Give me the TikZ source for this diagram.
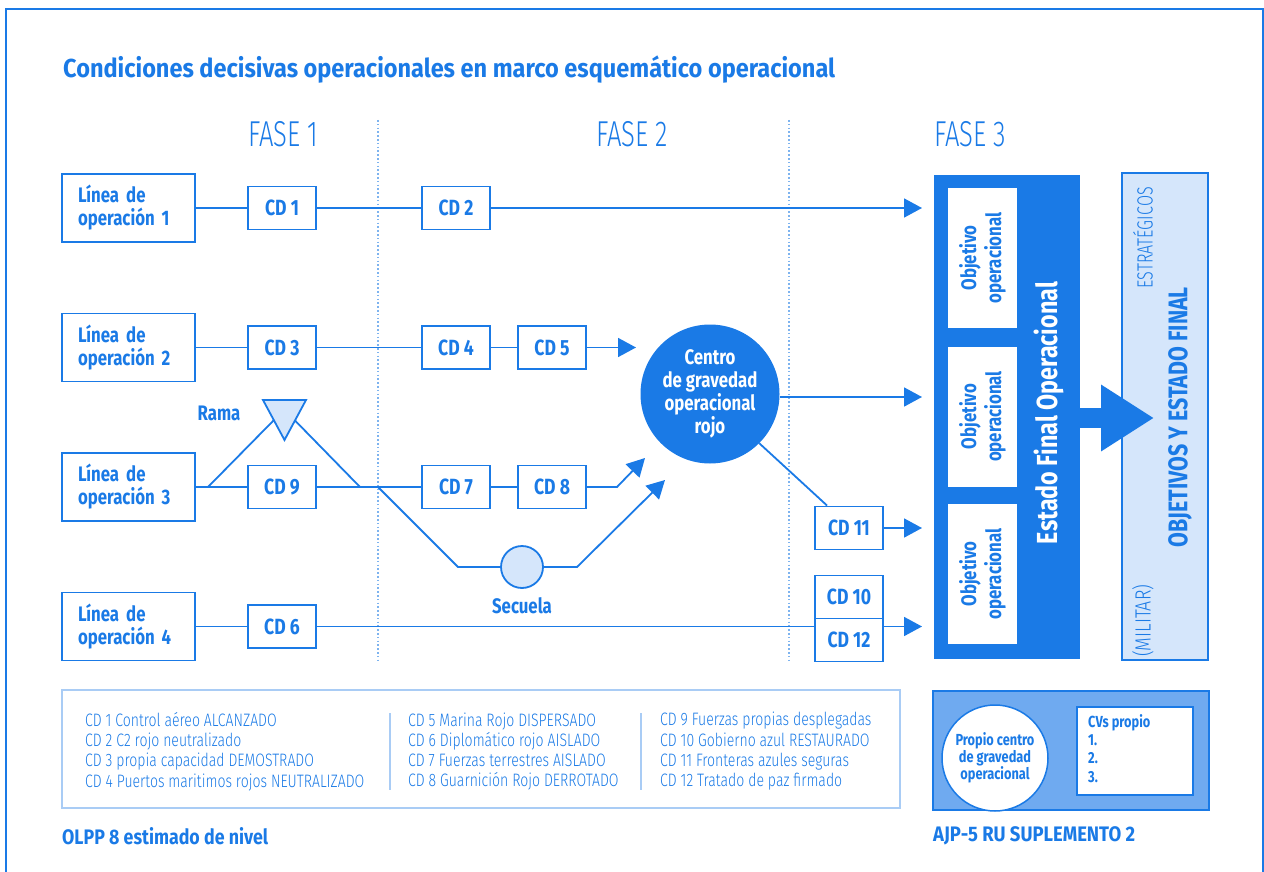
\documentclass[tikz,border=0pt]{standalone}
\usepackage{fontspec}
\usepackage{graphicx}
\setmainfont{Fira Sans}[FakeStretch=0.8]
\newfontfamily\lightf{Fira Sans Light}[FakeStretch=0.78]
\usetikzlibrary{arrows.meta,calc}
\definecolor{mb}{HTML}{1A7AE6}
\definecolor{lb}{HTML}{D5E6FB}
\definecolor{mid}{HTML}{6FAAF0}
\definecolor{dotc}{HTML}{7DB3EF}
\definecolor{lgb}{HTML}{A9CCF5}
\newcommand\fw[2]{\resizebox{#1}{\height}{#2}}
\begin{document}
\begin{tikzpicture}[x=1pt,y=-1pt,
  lbox/.style={draw=mb, line width=1.8pt, minimum height=68pt, inner xsep=16pt, inner ysep=0pt, text width=101pt, align=left, text=mb, font=\bfseries\fontsize{21}{23}\selectfont},
  cdbox/.style={draw=mb, line width=1.8pt, minimum width=68pt, minimum height=43pt, inner sep=0pt, fill=white, text=mb, font=\bfseries\fontsize{22}{24}\selectfont},
  ln/.style={mb, line width=1.8pt},
  arr/.style={ln, -{Triangle[length=18pt,width=19pt]}},
  dotl/.style={dotc, line width=1.6pt, dash pattern=on 1.6pt off 2.2pt},
  phase/.style={text=mb, font=\lightf\fontsize{36}{36}\selectfont},
  lab/.style={text=mb, font=\bfseries\fontsize{21}{22}\selectfont},
  objbox/.style={rotate=90, fill=white, minimum width=140pt, minimum height=69pt, inner sep=0pt, align=center, text=mb, font=\bfseries\fontsize{21}{25}\selectfont},
  legtxt/.style={anchor=west, align=left, text=mb, inner sep=0pt, font=\lightf\fontsize{18}{20.3}\selectfont},
  foot/.style={anchor=west, inner sep=0pt, text=mb, font=\bfseries\fontsize{21}{22}\selectfont}
]
\useasboundingbox (0,0) rectangle (1264,872);
\draw[mb, line width=1.5pt] (6,872) -- (6,9) -- (1263,9) -- (1263,872);

% title
\node[anchor=west, inner sep=0pt, text=mb, font=\bfseries\fontsize{26}{28}\selectfont] (title) at (63,70) {\fw{772pt}{Condiciones decisivas operacionales en marco esquemático operacional}};

% phases
\node[phase] (f1) at (283,134) {\fw{70pt}{FASE 1}};
\node[phase] (f2) at (632,134) {\fw{72pt}{FASE 2}};
\node[phase] (f3) at (970,134) {\fw{72pt}{FASE 3}};
\draw[dotl] (378,120) -- (378,662);
\draw[dotl] (789,120) -- (789,662);

% right side blocks
\node[fill=lb, draw=mb, line width=1.5pt, minimum width=86pt, minimum height=487pt, inner sep=0pt] (seb) at (1165,416.5) {};
\node[fill=mb, minimum width=146pt, minimum height=484pt, inner sep=0pt] (efo) at (1007,417) {};
\node[objbox] (o1) at (982.5,258) {Objetivo\\operacional};
\node[objbox] (o2) at (982.5,416.5) {Objetivo\\operacional};
\node[objbox] (o3) at (982.5,574) {Objetivo\\operacional};
\node[rotate=90, text=white, font=\bfseries\fontsize{29}{30}\selectfont] (efot) at (1049,413) {\fw{262pt}{Estado Final Operacional}};
\draw[mb, line width=20pt, -{Triangle[length=53pt,width=63pt]}] (1079,418) -- (1154,418);
\node[rotate=90, anchor=east, text=mb, inner sep=0pt, font=\lightf\fontsize{22}{24}\selectfont] (estr) at (1143,187) {\fw{101pt}{ESTRATÉGICOS}};
\node[rotate=90, anchor=west, text=mb, inner sep=0pt, font=\lightf\fontsize{22}{24}\selectfont] (mil) at (1143,657) {\fw{72pt}{(MILITAR)}};
\node[rotate=90, text=mb, inner sep=0pt, font=\bfseries\fontsize{27}{28}\selectfont] (oyef) at (1180,417) {\fw{260pt}{OBJETIVOS Y ESTADO FINAL}};

% line boxes
\node[lbox] (L1) at (128.5,208) {Línea de\\operación 1};
\node[lbox] (L2) at (128.5,347.5) {Línea de\\operación 2};
\node[lbox] (L3) at (128.5,487) {Línea de\\operación 3};
\node[lbox] (L4) at (128.5,626.5) {Línea de\\operación 4};

% CD boxes
\node[cdbox] (CD1) at (282,208) {CD 1};
\node[cdbox] (CD2) at (456,208) {CD 2};
\node[cdbox] (CD3) at (282,347.5) {CD 3};
\node[cdbox] (CD4) at (456,347.5) {CD 4};
\node[cdbox] (CD5) at (552,347.5) {CD 5};
\node[cdbox] (CD9) at (282,487) {CD 9};
\node[cdbox] (CD7) at (456,487) {CD 7};
\node[cdbox] (CD8) at (552,487) {CD 8};
\node[cdbox] (CD6) at (282,626.5) {CD 6};
\node[cdbox] (CD11) at (849,528) {CD 11};
\node[cdbox] (CD10) at (849,597) {CD 10};
\node[cdbox] (CD12) at (849,640) {CD 12};

% centre of gravity
\node[circle, fill=mb, minimum size=139pt, inner sep=0pt, align=center, text=white, font=\bfseries\fontsize{21}{23}\selectfont] (cog) at (710,394) {Centro\\de gravedad\\operacional\\rojo};

% coordinates
\coordinate (t1) at (922,208);
\coordinate (t2) at (636,347.5);
\coordinate (tc) at (922,397);
\coordinate (t11) at (922,528);
\coordinate (t4) at (922,626.5);
\coordinate (j3) at (378,487);
\coordinate (r0) at (208,487);
\coordinate (r1) at (360,487);
\coordinate (ra) at (273.5,420.5);
\coordinate (rb) at (295,420.5);
\coordinate (k8) at (617,487);
\coordinate (k8t) at (645,458);
\coordinate (s1) at (458,567);
\coordinate (s2) at (577,567);
\coordinate (s3) at (665,480);

% row 1
\draw[ln] (L1) -- (CD1);
\draw[ln] (CD1) -- (CD2);
\draw[arr] (CD2) -- (t1);
% row 2
\draw[ln] (L2) -- (CD3);
\draw[ln] (CD3) -- (CD4);
\draw[ln] (CD4) -- (CD5);
\draw[arr] (CD5) -- (t2);
% row 3
\draw[ln] (L3) -- (CD9);
\draw[ln] (CD9) -- (j3);
\draw[ln] (j3) -- (CD7);
\draw[ln] (CD7) -- (CD8);
\draw[arr] (CD8) -- (k8) -- (k8t);
% rama
\draw[ln, fill=lb] (263,400) coordinate (ta) -- (306,400) coordinate (tb) -- (284.5,440) coordinate (tcc) -- cycle;
\draw[ln] (r0) -- (ra);
\draw[ln] (rb) -- (r1);
\node[lab] (rama) at (219,413) {Rama};
% secuela
\node[circle, draw=mb, line width=1.8pt, fill=lb, minimum size=42pt, inner sep=0pt] (sec) at (522,567) {};
\draw[ln] (j3) -- (s1) -- (sec);
\draw[arr] (sec) -- (s2) -- (s3);
\node[lab] (secl) at (522,606) {Secuela};
% row 4
\draw[ln] (L4) -- (CD6);
\draw[ln] (CD6.east) -- (CD6.east -| CD12.west);
\draw[arr] (CD12.east |- t4) -- (t4);
% cog links
\draw[arr] (cog.east |- tc) -- (tc);
\draw[ln] (cog.-45) -- ([xshift=13pt]CD11.north west);
\draw[arr] (CD11) -- (t11);

% legend
\node[draw=lgb, line width=1.5pt, minimum width=838pt, minimum height=118pt, inner sep=0pt] (leg) at (481,749) {};
\draw[lgb, line width=1.5pt] (390,713) -- (390,790);
\draw[lgb, line width=1.5pt] (641,713) -- (641,790);
\node[legtxt] (lg1) at (85,751.5) {CD 1 Control aéreo ALCANZADO\\CD 2 C2 rojo neutralizado\\CD 3 propia capacidad DEMOSTRADO\\CD 4 Puertos maritimos rojos NEUTRALIZADO};
\node[legtxt] (lg2) at (408,751.5) {CD 5 Marina Rojo DISPERSADO\\CD 6 Diplomático rojo AISLADO\\CD 7 Fuerzas terrestres AISLADO\\CD 8 Guarnición Rojo DERROTADO};
\node[legtxt] (lg3) at (660,751.5) {CD 9 Fuerzas propias desplegadas\\CD 10 Gobierno azul RESTAURADO\\CD 11 Fronteras azules seguras\\CD 12 Tratado de paz firmado};

% bottom right
\node[fill=mid, draw=mb, line width=1.5pt, minimum width=276pt, minimum height=119pt, inner sep=0pt] (cvb) at (1071,750.5) {};
\node[circle, fill=white, draw=mb, line width=1.5pt, minimum size=106pt, inner sep=0pt, align=center, text=mb, font=\bfseries\fontsize{16}{16.5}\selectfont] (pcg) at (995,758) {Propio centro\\de gravedad\\operacional};
\node[fill=white, draw=mb, line width=1.5pt, minimum width=116pt, minimum height=88pt, inner sep=0pt] (cvw) at (1135,751) {};
\node[anchor=north west, inner sep=0pt, align=left, text=mb, font=\bfseries\fontsize{16}{18.3}\selectfont] (cvt) at (1088,714) {CVs propio\\1.\\2.\\3.};

% footers
\node[foot] (olpp) at (62,836) {\fw{206pt}{OLPP 8 estimado de nivel}};
\node[foot] (ajp) at (933,836) {\fw{202pt}{AJP-5 RU SUPLEMENTO 2}};
\end{tikzpicture}
\end{document}
